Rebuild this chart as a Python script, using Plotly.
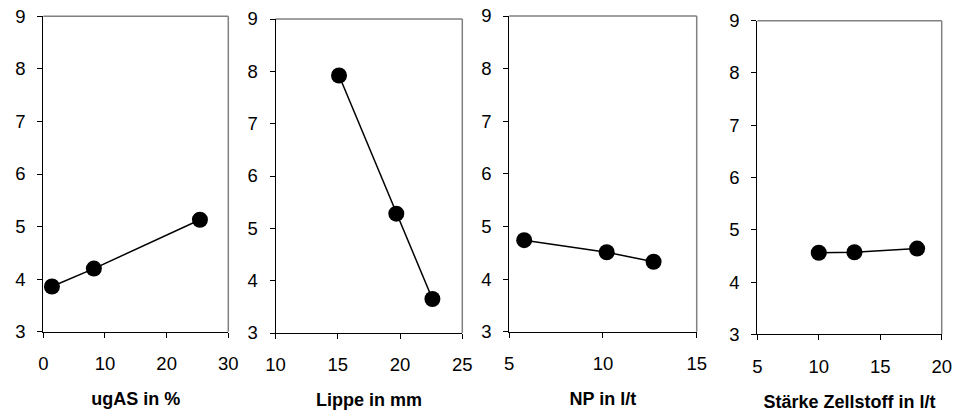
import plotly.graph_objects as go

# ---- data ----
y_ticks = [3, 4, 5, 6, 7, 8, 9]

ugas_x = [1.4, 8.2, 25.4]
ugas_y = [3.86, 4.20, 5.13]
ugas_ticks = [0, 10, 20, 30]

lippe_x = [15.1, 19.7, 22.6]
lippe_y = [7.92, 5.28, 3.65]
lippe_ticks = [10, 15, 20, 25]

np_x = [5.8, 10.2, 12.7]
np_y = [4.74, 4.51, 4.33]
np_ticks = [5, 10, 15]

staerke_x = [10.0, 12.9, 18.0]
staerke_y = [4.56, 4.57, 4.64]
staerke_ticks = [5, 10, 15, 20]

titles = ["ugAS in %", "Lippe in mm", "NP in l/t", "Stärke Zellstoff in l/t"]

W, H = 961, 412
FONT = "Liberation Sans, Arial, sans-serif"
TICK_SIZE = 18.5
TITLE_SIZE = 18

# panel boxes in page pixels (left, right), (top, bottom)
panels = [
    (ugas_x, ugas_y, ugas_ticks, (43.3, 228.3), (16.3, 331.7)),
    (lippe_x, lippe_y, lippe_ticks, (275.5, 462.3), (19.0, 333.0)),
    (np_x, np_y, np_ticks, (509.2, 696.7), (16.0, 331.7)),
    (staerke_x, staerke_y, staerke_ticks, (757.3, 941.7), (20.7, 334.3)),
]

fig = go.Figure()
layout = dict(
    width=W, height=H,
    margin=dict(l=0, r=0, t=0, b=0, pad=0),
    paper_bgcolor="white", plot_bgcolor="white",
    showlegend=False,
    font=dict(family=FONT, color="black", size=TICK_SIZE),
    shapes=[],
)

for i, (xs, ys, xt, (px0, px1), (py0, py1)) in enumerate(panels):
    n = "" if i == 0 else str(i + 1)
    xa, ya = "x" + n, "y" + n
    fig.add_trace(go.Scatter(
        x=xs, y=ys, xaxis=xa, yaxis=ya, mode="lines+markers",
        line=dict(color="black", width=1.5),
        marker=dict(color="black", size=16),
        cliponaxis=False,
    ))
    layout["xaxis" + n] = dict(
        domain=[px0 / W, px1 / W], anchor=ya,
        range=[xt[0], xt[-1]], tickvals=xt, ticktext=[str(v) for v in xt],
        showgrid=False, zeroline=False, automargin=False,
        showline=True, linecolor="black", linewidth=1,
        ticks="outside", ticklen=5, tickcolor="black", tickwidth=1,
        ticklabelstandoff=10,
        tickfont=dict(size=TICK_SIZE, family=FONT, color="black"),
        title=dict(text="<b>" + titles[i] + "</b>", standoff=19,
                   font=dict(size=TITLE_SIZE, family=FONT, color="black")),
        fixedrange=True,
    )
    layout["yaxis" + n] = dict(
        domain=[1 - py1 / H, 1 - py0 / H], anchor=xa,
        range=[3, 9], tickvals=y_ticks,
        showgrid=False, zeroline=False, automargin=False,
        showline=True, linecolor="black", linewidth=1,
        ticks="outside", ticklen=5, tickcolor="black", tickwidth=1,
        ticklabelstandoff=8,
        tickfont=dict(size=TICK_SIZE, family=FONT, color="black"),
        fixedrange=True,
    )
    # grey top and right frame lines
    layout["shapes"].append(dict(type="line", xref=xa + " domain", yref=ya + " domain",
                                 x0=0, x1=1, y0=1, y1=1, layer="below",
                                 line=dict(color="#808080", width=1.5)))
    layout["shapes"].append(dict(type="line", xref=xa + " domain", yref=ya + " domain",
                                 x0=1, x1=1, y0=0, y1=1, layer="below",
                                 line=dict(color="#808080", width=1.5)))

fig.update_layout(**layout)
fig.write_html(
    "out.html",
    config={"displayModeBar": False},
    post_script="document.body.style.margin='0';document.body.style.overflow='hidden';",
)
